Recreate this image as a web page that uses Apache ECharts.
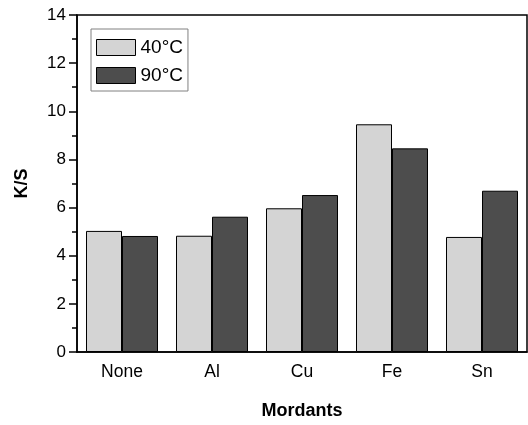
<!DOCTYPE html>
<html>
<head>
<meta charset="utf-8">
<script src="https://cdn.jsdelivr.net/npm/echarts@6/dist/echarts.min.js"></script>
<style>
  html, body { margin: 0; padding: 0; background: #fff; }
  #chart { width: 528px; height: 425px; }
</style>
</head>
<body>
<div id="chart"></div>
<script>
// K/S values for each mordant at two dyeing temperatures
const mordants = ['None', 'Al', 'Cu', 'Fe', 'Sn'];
const ks40 = [5.03, 4.83, 5.97, 9.46, 4.78];
const ks90 = [4.82, 5.62, 6.52, 8.46, 6.70];
const seriesNames = ['40°C', '90°C'];
const yTicks = [0, 2, 4, 6, 8, 10, 12, 14];

const font = '"Liberation Sans", Arial, sans-serif';
const chart = echarts.init(document.getElementById('chart'), null, { renderer: 'canvas' });

const barStyle = (color) => ({
  color: color,
  borderColor: '#000',
  borderWidth: 1
});

chart.setOption({
  animation: false,
  backgroundColor: '#fff',
  grid: {
    left: 77, right: 1, top: 15, bottom: 73,
    containLabel: false,
    outerBoundsMode: 'none',
    show: true, borderColor: '#000', borderWidth: 1.5, backgroundColor: 'transparent'
  },
  legend: {
    data: seriesNames.map(n => ({ name: n, icon: 'rect' })),
    left: 91, top: 29,
    orient: 'vertical',
    itemWidth: 39, itemHeight: 16, itemGap: 9,
    padding: [9, 5, 6, 5],
    borderColor: '#808080', borderWidth: 1,
    backgroundColor: '#fff',
    itemStyle: { borderColor: '#000', borderWidth: 1 },
    textStyle: { fontFamily: font, fontSize: 19, color: '#000' }
  },
  xAxis: [
    {
      type: 'category',
      data: mordants,
      name: 'Mordants',
      nameLocation: 'middle',
      nameGap: 50,
      nameTextStyle: { fontFamily: font, fontSize: 18, fontWeight: 'bold', color: '#000' },
      axisLine: { lineStyle: { color: '#000', width: 1.5 } },
      axisTick: { alignWithLabel: true, length: 7, lineStyle: { color: '#000', width: 1.5 } },
      axisLabel: { fontFamily: font, fontSize: 17.5, color: '#000', margin: 11 }
    },
    {
      // short ticks at the category boundaries
      type: 'category',
      data: mordants,
      position: 'bottom',
      axisLine: { show: false },
      axisTick: { length: 4, lineStyle: { color: '#000', width: 1.5 } },
      axisLabel: { show: false }
    }
  ],
  yAxis: {
    type: 'value',
    min: yTicks[0], max: yTicks[yTicks.length - 1], interval: 2,
    name: 'K/S',
    nameLocation: 'middle',
    nameGap: 46,
    nameTextStyle: { fontFamily: font, fontSize: 18, fontWeight: 'bold', color: '#000' },
    splitLine: { show: false },
    axisLine: { show: true, lineStyle: { color: '#000', width: 1.5 } },
    axisTick: { show: true, length: 8, lineStyle: { color: '#000', width: 1.5 } },
    minorTick: { show: true, splitNumber: 2, length: 5, lineStyle: { color: '#000', width: 1.5 } },
    axisLabel: { fontFamily: font, fontSize: 17, color: '#000', margin: 11 }
  },
  series: [
    {
      name: seriesNames[0], type: 'bar', data: ks40,
      barWidth: '40%', barGap: '0%',
      itemStyle: barStyle('#d4d4d4')
    },
    {
      name: seriesNames[1], type: 'bar', data: ks90,
      barWidth: '40%', barGap: '0%',
      itemStyle: barStyle('#4d4d4d')
    }
  ]
});
</script>
</body>
</html>
